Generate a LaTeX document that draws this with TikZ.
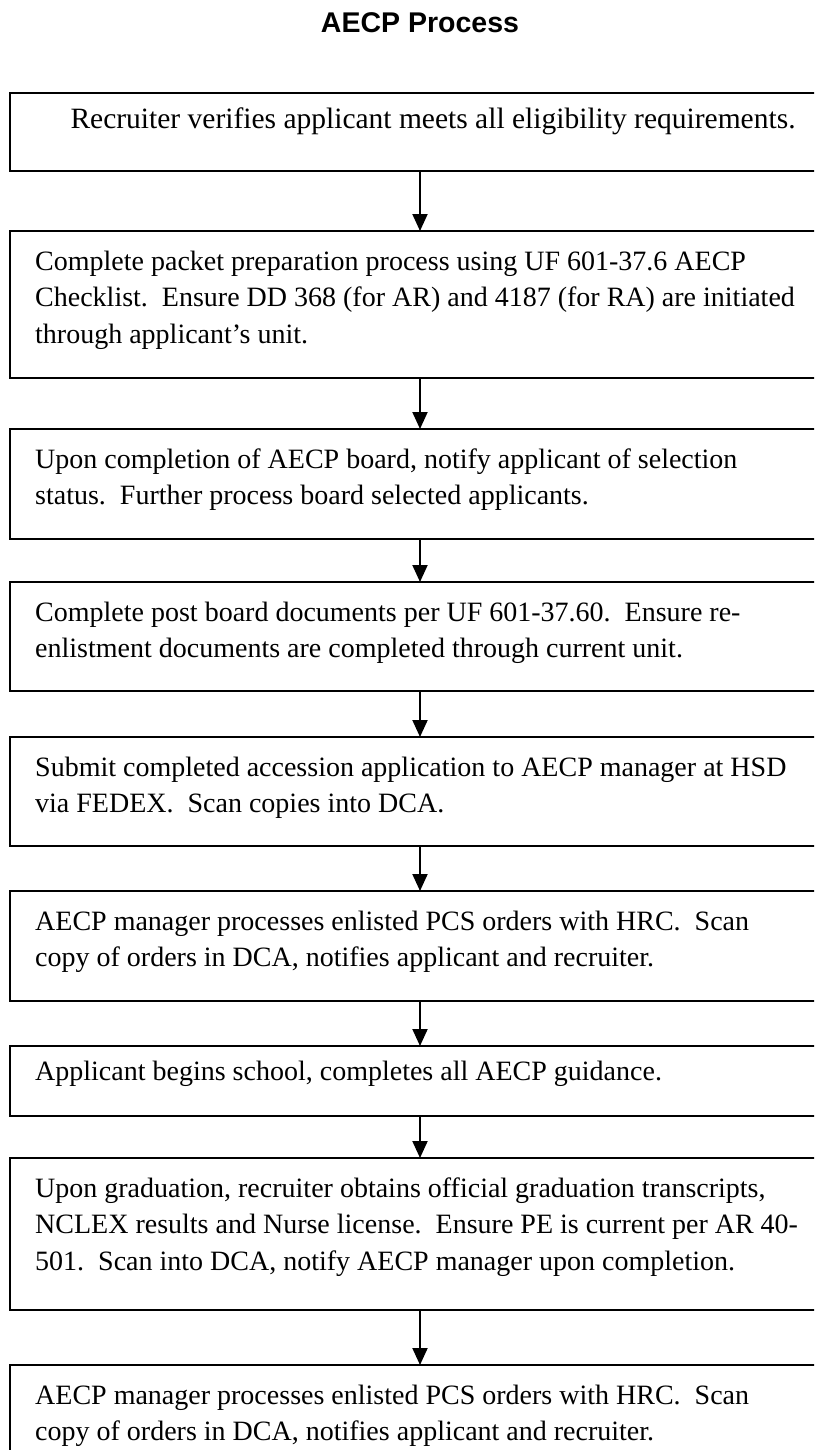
\documentclass[tikz,border=0pt]{standalone}
\usepackage{fontspec}
\setmainfont{Liberation Serif}
\newfontfamily\titlefont{Liberation Sans}
\usetikzlibrary{arrows.meta}
\begin{document}
\begin{tikzpicture}[x=1pt,y=1pt,
  stepbox/.style={draw, line width=2.7pt, minimum width=820pt, inner sep=0pt, outer sep=0pt, anchor=north west},
  steptext/.style={anchor=north west, inner sep=0pt, align=left, font=\fontsize{28}{36.5}\selectfont},
  flow/.style={-{Triangle[length=17pt,width=15pt]}, line width=2pt}]
\useasboundingbox (0,0) rectangle (814,-1450);
\clip (0,0) rectangle (814,-1450);
\node[font=\titlefont\bfseries\fontsize{28.5}{30}\selectfont] (title) at (420,-23) {AECP Process};
% boxes
\node[stepbox, minimum height=78pt]  (b1) at (10,-93) {};
\node[stepbox, minimum height=147pt] (b2) at (10,-231) {};
\node[stepbox, minimum height=110pt] (b3) at (10,-429) {};
\node[stepbox, minimum height=109pt] (b4) at (10,-582) {};
\node[stepbox, minimum height=109pt] (b5) at (10,-737) {};
\node[stepbox, minimum height=110pt] (b6) at (10,-891) {};
\node[stepbox, minimum height=70pt]  (b7) at (10,-1046) {};
\node[stepbox, minimum height=152pt] (b8) at (10,-1158) {};
\node[stepbox, minimum height=130pt] (b9) at (10,-1365) {};
% texts
\node[steptext, anchor=north, font=\fontsize{29.5}{36.5}\selectfont] (t1) at (433,-103) {\strut Recruiter verifies applicant meets all eligibility requirements.};
\node[steptext] (t2) at (35,-244.5) {\strut Complete packet preparation process using UF 601-37.6 AECP\\
Checklist.\ \ Ensure DD 368 (for AR) and 4187 (for RA) are initiated\\
through applicant’s unit.};
\node[steptext] (t3) at (35,-442.5) {\strut Upon completion of AECP board, notify applicant of selection\\
status.\ \ Further process board selected applicants.};
\node[steptext] (t4) at (35,-595.5) {\strut Complete post board documents per UF 601-37.60.\ \ Ensure re-\\
enlistment documents are completed through current unit.};
\node[steptext] (t5) at (35,-750.5) {\strut Submit completed accession application to AECP manager at HSD\\
via FEDEX.\ \ Scan copies into DCA.};
\node[steptext] (t6) at (35,-904.5) {\strut AECP manager processes enlisted PCS orders with HRC.\ \ Scan\\
copy of orders in DCA, notifies applicant and recruiter.};
\node[steptext] (t7) at (35,-1055) {\strut Applicant begins school, completes all AECP guidance.};
\node[steptext] (t8) at (35,-1171.5) {\strut Upon graduation, recruiter obtains official graduation transcripts,\\
NCLEX results and Nurse license.\ \ Ensure PE is current per AR 40-\\
501.\ \ Scan into DCA, notify AECP manager upon completion.};
\node[steptext] (t9) at (35,-1378.5) {\strut AECP manager processes enlisted PCS orders with HRC.\ \ Scan\\
copy of orders in DCA, notifies applicant and recruiter.};
% connectors
\draw[flow] (b1.south) -- (b2.north);
\draw[flow] (b2.south) -- (b3.north);
\draw[flow] (b3.south) -- (b4.north);
\draw[flow] (b4.south) -- (b5.north);
\draw[flow] (b5.south) -- (b6.north);
\draw[flow] (b6.south) -- (b7.north);
\draw[flow] (b7.south) -- (b8.north);
\draw[flow] (b8.south) -- (b9.north);
\end{tikzpicture}
\end{document}
